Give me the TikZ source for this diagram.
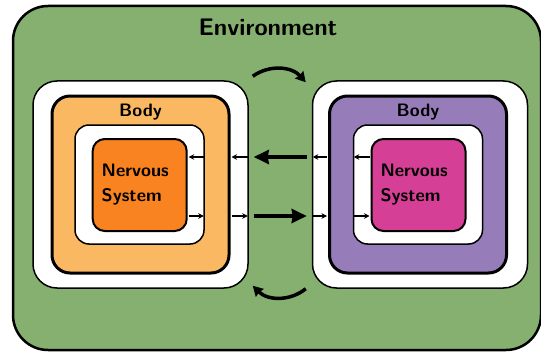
\documentclass[tikz,border=0pt]{standalone}
\usetikzlibrary{positioning,calc,arrows.meta}

\definecolor{envgreen}{RGB}{134,176,111}
\definecolor{bodyorange}{RGB}{251,184,99}
\definecolor{nsorange}{RGB}{248,131,32}
\definecolor{bodypurple}{RGB}{151,124,186}
\definecolor{nspink}{RGB}{214,63,150}

\begin{document}
\begin{tikzpicture}[x=1pt, y=-1pt,
    box/.style={rectangle, draw, inner sep=0pt},
    shell/.style={box, fill=white, line width=1.5pt, rounded corners=24pt,
      minimum width=215pt, minimum height=207pt},
    body/.style={box, line width=3pt, rounded corners=18pt,
      minimum width=177pt, minimum height=177pt},
    skin/.style={box, fill=white, line width=1.5pt, rounded corners=14pt,
      minimum width=129pt, minimum height=119pt},
    ns/.style={box, line width=2pt, rounded corners=12pt,
      minimum width=94pt, minimum height=92pt, text width=76pt, align=left,
      font=\fontsize{18.1}{25}\selectfont\sffamily\bfseries},
    lbl/.style={inner sep=0pt, font=\fontsize{18}{21}\selectfont\sffamily\bfseries},
    small/.style={line width=1.1pt, -{Stealth[length=5.5pt,width=5.5pt]},
      shorten <=1pt, shorten >=1pt},
    big/.style={line width=3.5pt, -{Stealth[length=15pt,width=14pt,inset=1pt]},
      shorten <=5pt, shorten >=5pt},
    turn/.style={line width=3.5pt, -{Stealth[length=10pt,width=11pt,inset=1pt]}}]

  \useasboundingbox (0,0) rectangle (541,353);

  \node[box, fill=envgreen, line width=2.5pt, rounded corners=35pt,
    minimum width=528pt, minimum height=344pt] (env) at (277,178) {};
  \node[inner sep=0pt, anchor=base,
    font=\fontsize{24}{28}\selectfont\sffamily\bfseries] (envtxt) at (268,36) {Environment};

  % left agent
  \node[shell] (outerA) at (140.5,184.5) {};
  \node[body, fill=bodyorange] (bodyA) at (140.5,184.5) {};
  \node[lbl, below=9pt of bodyA.north] (bodytxtA) {Body};
  \node[skin] (skinA) at (139.5,184.5) {};
  \node[ns, fill=nsorange] (nsA) at (139.7,185) {Nervous\\System};

  % right agent
  \node[shell, right=63pt of outerA] (outerB) {};
  \node[body, fill=bodypurple] (bodyB) at (418,184.5) {};
  \node[lbl, below=9pt of bodyB.north] (bodytxtB) {Body};
  \node[skin] (skinB) at (418,184.5) {};
  \node[ns, fill=nspink] (nsB) at (418.5,185) {Nervous\\System};

  \coordinate (hi) at (0,157);
  \coordinate (lo) at (0,216);

  % inside the agents
  \draw[small] (skinA.east |- hi) -- (nsA.east |- hi);
  \draw[small] (nsA.east |- lo) -- (skinA.east |- lo);
  \draw[small] (outerA.east |- hi) -- (bodyA.east |- hi);
  \draw[small] (bodyA.east |- lo) -- (outerA.east |- lo);
  \draw[small] (bodyB.west |- hi) -- (outerB.west |- hi);
  \draw[small] (outerB.west |- lo) -- (bodyB.west |- lo);
  \draw[small] (nsB.west |- hi) -- (skinB.west |- hi);
  \draw[small] (skinB.west |- lo) -- (nsB.west |- lo);

  % between the agents
  \draw[big] (outerB.west |- hi) -- (outerA.east |- hi);
  \draw[big] (outerA.east |- lo) -- (outerB.west |- lo);
  \draw[turn] ($(outerA.north east)+(4,-4)$) to[bend left=42] ($(outerB.north west)+(-6,2)$);
  \draw[turn] ($(outerB.south west)+(-6,0)$) to[bend left=42] ($(outerA.south east)+(4,-3)$);
\end{tikzpicture}
\end{document}
